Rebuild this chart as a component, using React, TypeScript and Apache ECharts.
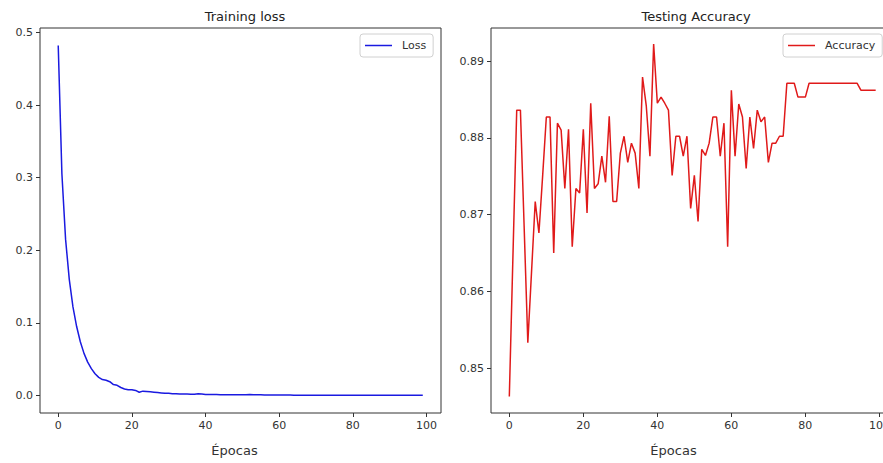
import React, { useEffect, useRef } from "react";
import * as echarts from "echarts";

const LOSS = [
  0.482, 0.305, 0.215, 0.16, 0.122, 0.095, 0.074, 0.058, 0.046, 0.037,
  0.03, 0.025, 0.022, 0.021, 0.019, 0.015, 0.014, 0.011, 0.009, 0.008,
  0.008, 0.007, 0.0045, 0.006, 0.0055, 0.005, 0.0045, 0.004, 0.0035, 0.003,
  0.003, 0.0025, 0.0025, 0.002, 0.0022, 0.002, 0.0018, 0.0017, 0.0025, 0.002,
  0.0015, 0.0014, 0.0013, 0.0013, 0.0012, 0.0012, 0.0011, 0.0011, 0.001, 0.001,
  0.001, 0.0012, 0.0015, 0.0011, 0.001, 0.0009, 0.0008, 0.0008, 0.0007, 0.0007,
  0.0006, 0.0006, 0.0006, 0.0006, 0.0005, 0.0005, 0.0005, 0.0005, 0.0005, 0.0005,
  0.0005, 0.0005, 0.0004, 0.0004, 0.0004, 0.0004, 0.0004, 0.0004, 0.0004, 0.0004,
  0.0004, 0.0004, 0.0004, 0.0003, 0.0003, 0.0003, 0.0003, 0.0003, 0.0003, 0.0003,
  0.0003, 0.0003, 0.0003, 0.0003, 0.0003, 0.0003, 0.0003, 0.0003, 0.0003, 0.0003,
];

const ACCURACY = [
  0.8463, 0.865, 0.8836, 0.8836, 0.8685, 0.8533, 0.8625, 0.8717, 0.8676, 0.875,
  0.8827, 0.8827, 0.865, 0.8819, 0.881, 0.8734, 0.8811, 0.8658, 0.8734, 0.8728,
  0.8811, 0.8702, 0.8845, 0.8734, 0.874, 0.8776, 0.8742, 0.8828, 0.8717, 0.8717,
  0.878, 0.8802, 0.8768, 0.8793, 0.878, 0.8734, 0.8879, 0.8842, 0.8776, 0.8922,
  0.8845, 0.8853, 0.8845, 0.8836, 0.8751, 0.8802, 0.8802, 0.8776, 0.8802, 0.8708,
  0.8751, 0.8691, 0.8785, 0.8777, 0.8793, 0.8827, 0.8827, 0.8776, 0.8819, 0.8658,
  0.8862, 0.8776, 0.8844, 0.8827, 0.876, 0.8827, 0.8786, 0.8836, 0.8821, 0.8827,
  0.8768, 0.8793, 0.8793, 0.8802, 0.8802, 0.8871, 0.8871, 0.8871, 0.8853, 0.8853,
  0.8853, 0.8871, 0.8871, 0.8871, 0.8871, 0.8871, 0.8871, 0.8871, 0.8871, 0.8871,
  0.8871, 0.8871, 0.8871, 0.8871, 0.8871, 0.8862, 0.8862, 0.8862, 0.8862, 0.8862,
];

const EPOCHS = LOSS.map((_, i) => i);
const X_TICKS = [0, 20, 40, 60, 80, 100];
const LOSS_TICKS = [0, 0.1, 0.2, 0.3, 0.4, 0.5];
const ACC_TICKS = [0.85, 0.86, 0.87, 0.88, 0.89];

const FONT = "DejaVu Sans";
const INK = "#333";

function xAxisCfg(gridIndex: number, shiftLeft: number) {
  return {
    type: "value",
    gridIndex,
    min: -4.95,
    max: 103.95,
    name: "Épocas",
    nameLocation: "middle",
    nameGap: 31,
    nameTextStyle: { fontFamily: FONT, fontSize: 13, color: INK, padding: [0, shiftLeft * 2, 0, 0] },
    splitLine: { show: false },
    axisLine: { show: false, onZero: false },
    axisTick: {
      show: true,
      inside: false,
      length: 4,
      customValues: X_TICKS,
      lineStyle: { color: INK },
    },
    axisLabel: {
      customValues: X_TICKS,
      fontFamily: FONT,
      fontSize: 11,
      color: INK,
      margin: 7,
    },
  };
}

function yAxisCfg(gridIndex: number, min: number, max: number, ticks: number[], digits: number) {
  return {
    type: "value",
    gridIndex,
    min,
    max,
    splitLine: { show: false },
    axisLine: { show: false, onZero: false },
    axisTick: {
      show: true,
      inside: false,
      length: 4,
      customValues: ticks,
      lineStyle: { color: INK },
    },
    axisLabel: {
      customValues: ticks,
      formatter: (v: number) => v.toFixed(digits),
      fontFamily: FONT,
      fontSize: 11,
      color: INK,
      margin: 7,
    },
  };
}

export default function App() {
  const ref = useRef<HTMLDivElement>(null);

  useEffect(() => {
    document.body.style.margin = "0";
    if (!ref.current) return;
    const chart = echarts.init(ref.current, undefined, { renderer: "svg" });
    const legendBase = {
      orient: "horizontal",
      backgroundColor: "#fff",
      borderColor: "#d0d0d0",
      borderWidth: 1,
      borderRadius: 3,
      padding: [6, 7, 6, 5],
      icon: "rect",
      itemWidth: 27,
      itemHeight: 1.5,
      textStyle: { fontFamily: FONT, fontSize: 11, color: INK, padding: [0, 0, 0, 5] },
    };
    chart.setOption({
      animation: false,
      backgroundColor: "#fff",
      title: [
        {
          text: "Training loss",
          left: 240,
          top: 5,
          textAlign: "center",
          textStyle: { fontFamily: FONT, fontSize: 13, fontWeight: "normal", color: "#222" },
        },
        {
          text: "Testing Accuracy",
          left: 691,
          top: 5,
          textAlign: "center",
          textStyle: { fontFamily: FONT, fontSize: 13, fontWeight: "normal", color: "#222" },
        },
      ],
      legend: [
        { ...legendBase, data: ["Loss"], left: 360, top: 34 },
        { ...legendBase, data: ["Accuracy"], left: 783, top: 34 },
      ],
      grid: [
        { left: 40, top: 28, width: 401, height: 385, show: true, borderColor: INK, borderWidth: 1, backgroundColor: "transparent", outerBoundsMode: "none", containLabel: false },
        { left: 491, top: 28, width: 403, height: 385, show: true, borderColor: INK, borderWidth: 1, backgroundColor: "transparent", outerBoundsMode: "none", containLabel: false },
      ],
      xAxis: [xAxisCfg(0, 6), xAxisCfg(1, 19)],
      yAxis: [
        yAxisCfg(0, -0.0241, 0.5061, LOSS_TICKS, 1),
        yAxisCfg(1, 0.84415, 0.8943, ACC_TICKS, 2),
      ],
      series: [
        {
          name: "Loss",
          type: "line",
          xAxisIndex: 0,
          yAxisIndex: 0,
          data: EPOCHS.map((e, i) => [e, LOSS[i]]),
          symbol: "none",
          lineStyle: { color: "#1a1ae0", width: 1.5 },
          itemStyle: { color: "#1a1ae0" },
        },
        {
          name: "Accuracy",
          type: "line",
          xAxisIndex: 1,
          yAxisIndex: 1,
          data: EPOCHS.map((e, i) => [e, ACCURACY[i]]),
          symbol: "none",
          lineStyle: { color: "#e01a1a", width: 1.5 },
          itemStyle: { color: "#e01a1a" },
        },
      ],
    });
    return () => chart.dispose();
  }, []);

  return <div ref={ref} style={{ width: 883, height: 463 }} />;
}
